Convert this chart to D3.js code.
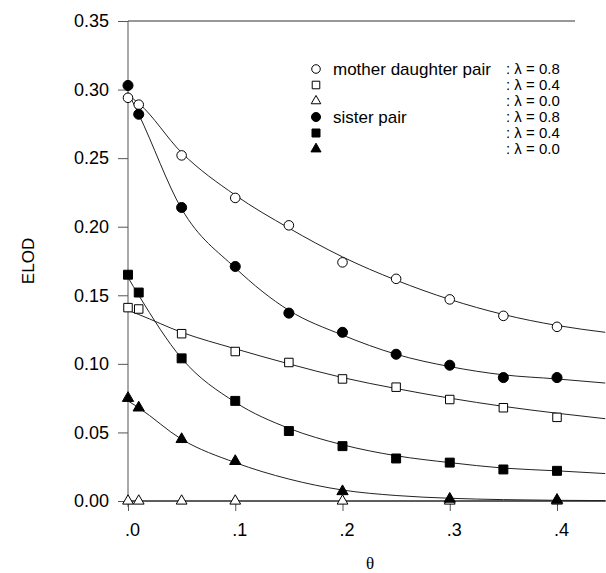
<!DOCTYPE html>
<html>
<head>
<meta charset="utf-8">
<script src="https://cdn.jsdelivr.net/npm/d3@7"></script>
<style>
  body { margin: 0; background: #fff; }
  svg { display: block; font-family: "Liberation Sans", Arial, sans-serif; }
</style>
</head>
<body>
<svg id="chart" width="606" height="573"></svg>
<script>
// x positions of the markers (theta)
var thetaPts = [0, 0.01, 0.05, 0.1, 0.15, 0.2, 0.25, 0.3, 0.35, 0.4];
var thetaTri = [0, 0.01, 0.05, 0.1, 0.2, 0.3, 0.4];

// ELOD values
var mdL8 = [0.294, 0.289, 0.252, 0.221, 0.201, 0.174, 0.162, 0.147, 0.135, 0.127];
var mdL4 = [0.141, 0.140, 0.122, 0.109, 0.101, 0.089, 0.083, 0.074, 0.068, 0.061];
var mdL0 = [0, 0, 0, 0, 0, 0, 0];
var spL8 = [0.303, 0.282, 0.214, 0.171, 0.137, 0.123, 0.107, 0.099, 0.090, 0.090];
var spL4 = [0.165, 0.152, 0.104, 0.073, 0.051, 0.040, 0.031, 0.028, 0.023, 0.022];
var spL0 = [0.075, 0.068, 0.045, 0.029, 0.007, 0.0015, 0.0007];

// fitted curves at these theta knots
var fitTheta = [0, 0.01, 0.05, 0.1, 0.15, 0.2, 0.25, 0.3, 0.35, 0.4, 0.445];
var mdL8fit = [0.296, 0.290, 0.254, 0.223, 0.199, 0.178, 0.161, 0.147, 0.136, 0.128, 0.123];
var mdL4fit = [0.139, 0.136, 0.123, 0.111, 0.100, 0.090, 0.082, 0.075, 0.069, 0.064, 0.060];
var mdL0fit = [0, 0, 0, 0, 0, 0, 0, 0, 0, 0, 0];
var spL8fit = [0.298, 0.282, 0.213, 0.170, 0.139, 0.121, 0.107, 0.098, 0.092, 0.089, 0.086];
var spL4fit = [0.163, 0.150, 0.104, 0.072, 0.053, 0.041, 0.033, 0.028, 0.024, 0.022, 0.020];
var spL0fit = [0.073, 0.068, 0.045, 0.028, 0.016, 0.008, 0.004, 0.002, 0.001, 0.0005, 0.0003];

// axis ticks
var yTicks = [0, 0.05, 0.1, 0.15, 0.2, 0.25, 0.3, 0.35];
var xTicks = [0, 0.1, 0.2, 0.3, 0.4];
var xTickLabels = [".0", ".1", ".2", ".3", ".4"];

// legend
var legendNames = ["mother daughter pair", "", "", "sister pair", "", ""];
var legendLambda = [": \u03bb = 0.8", ": \u03bb = 0.4", ": \u03bb = 0.0", ": \u03bb = 0.8", ": \u03bb = 0.4", ": \u03bb = 0.0"];

var series = [
  { y: mdL8, x: thetaPts, fit: mdL8fit, shape: d3.symbolCircle, size: 72, filled: false },
  { y: mdL4, x: thetaPts, fit: mdL4fit, shape: d3.symbolSquare, size: 72, filled: false },
  { y: mdL0, x: thetaTri, fit: mdL0fit, shape: d3.symbolTriangle, size: 50, filled: false },
  { y: spL8, x: thetaPts, fit: spL8fit, shape: d3.symbolCircle, size: 80, filled: true },
  { y: spL4, x: thetaPts, fit: spL4fit, shape: d3.symbolSquare, size: 80, filled: true },
  { y: spL0, x: thetaTri, fit: spL0fit, shape: d3.symbolTriangle, size: 55, filled: true }
];

var svg = d3.select('#chart');

var x = d3.scaleLinear().domain([0, 0.4]).range([128, 557]);
var y = d3.scaleLinear().domain([0, 0.35]).range([501, 21]);

var axisColor = '#555';

// frame: y axis, top line, x axis
svg.append('line')
  .attr('x1', x(0)).attr('x2', x(0))
  .attr('y1', y(0.35)).attr('y2', y(0) + 6)
  .attr('stroke', axisColor).attr('stroke-width', 1);
svg.append('line')
  .attr('x1', x(0)).attr('x2', 575)
  .attr('y1', y(0.35)).attr('y2', y(0.35))
  .attr('stroke', '#333').attr('stroke-width', 1);
svg.append('line')
  .attr('x1', x(0)).attr('x2', 606)
  .attr('y1', y(0)).attr('y2', y(0))
  .attr('stroke', '#333').attr('stroke-width', 1);

// y axis ticks + labels
var yAxis = d3.axisLeft(y)
  .tickValues(yTicks)
  .tickSize(10)
  .tickPadding(9)
  .tickFormat(d3.format('.2f'));
var yg = svg.append('g')
  .attr('transform', 'translate(' + x(0) + ',0)')
  .call(yAxis);
yg.select('.domain').remove();
yg.selectAll('line').attr('stroke', axisColor);
yg.selectAll('text')
  .attr('fill', '#000')
  .style('font-size', '18px')
  .style('font-family', '"Liberation Sans", Arial, sans-serif');

// x axis ticks + labels
var xAxis = d3.axisBottom(x)
  .tickValues(xTicks)
  .tickSize(10)
  .tickPadding(12)
  .tickFormat(function(d, i) { return xTickLabels[i]; });
var xg = svg.append('g')
  .attr('transform', 'translate(0,' + y(0) + ')')
  .call(xAxis);
xg.select('.domain').remove();
xg.selectAll('line').attr('stroke', axisColor);
xg.selectAll('text')
  .attr('fill', '#000')
  .attr('dx', 4)
  .style('font-size', '18px')
  .style('font-family', '"Liberation Sans", Arial, sans-serif');

// axis titles
svg.append('text')
  .attr('transform', 'translate(34,261) rotate(-90)')
  .attr('text-anchor', 'middle')
  .style('font-size', '17px')
  .text('ELOD');
svg.append('text')
  .attr('x', 370).attr('y', 563)
  .attr('dy', '0.35em')
  .attr('text-anchor', 'middle')
  .style('font-size', '17px')
  .style('font-family', '"Liberation Serif", serif')
  .text('\u03b8');

// fitted curves
var fitLine = d3.line()
  .x(function(d) { return x(d[0]); })
  .y(function(d) { return y(d[1]); })
  .curve(d3.curveMonotoneX);

series.forEach(function(s) {
  svg.append('path')
    .datum(fitTheta.map(function(t, i) { return [t, s.fit[i]]; }))
    .attr('d', fitLine)
    .attr('fill', 'none')
    .attr('stroke', '#222')
    .attr('stroke-width', 1);
});

// markers
series.forEach(function(s) {
  svg.append('g').selectAll('path')
    .data(s.x.map(function(t, i) { return [t, s.y[i]]; }))
    .enter().append('path')
    .attr('d', d3.symbol().type(s.shape).size(s.size))
    .attr('transform', function(d) { return 'translate(' + x(d[0]) + ',' + y(d[1]) + ')'; })
    .attr('fill', s.filled ? '#000' : '#fff')
    .attr('stroke', '#000')
    .attr('stroke-width', 1);
});

// legend
var legRows = [69, 85, 101, 117, 133, 149];
var leg = svg.append('g');
series.forEach(function(s, i) {
  leg.append('path')
    .attr('d', d3.symbol().type(s.shape).size(s.size * 0.8))
    .attr('transform', 'translate(316,' + legRows[i] + ')')
    .attr('fill', s.filled ? '#000' : '#fff')
    .attr('stroke', '#000');
  leg.append('text')
    .attr('x', 333).attr('y', legRows[i])
    .attr('dy', '0.35em')
    .style('font-size', '17px')
    .text(legendNames[i]);
  leg.append('text')
    .attr('x', 506).attr('y', legRows[i])
    .attr('dy', '0.35em')
    .style('font-size', '15px')
    .text(legendLambda[i]);
});
</script>
</body>
</html>
